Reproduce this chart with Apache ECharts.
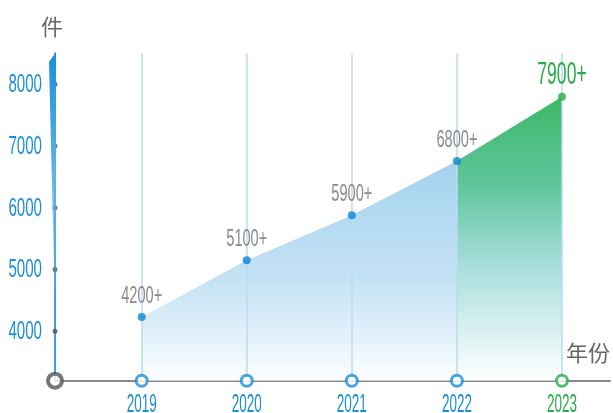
<!DOCTYPE html>
<html><head><meta charset="utf-8">
<script src="https://cdn.jsdelivr.net/npm/echarts@6/dist/echarts.min.js"></script>
<style>html,body{margin:0;padding:0;background:#fff}#c{width:613px;height:413px}</style>
</head><body><div id="c"></div>
<script>
// ---- data ----
const years = [2019, 2020, 2021, 2022, 2023];
const values = [4230, 5150, 5880, 6760, 7800];
const valueLabels = ['4200+', '5100+', '5900+', '6800+', '7900+'];
const yTicks = [4000, 5000, 6000, 7000, 8000];
const yName = '件';
const xName = '年份';

// ---- style ----
const BLUE = '#1a8fd8';
const GREEN = '#27ae4a';
const FONT = '"Liberation Sans"';
const xMin = 2018.175, xMax = 2023.457, yMin = 3200, yMax = 8500;
const lastIdx = years.length - 1;

// condensed text: measure, then squeeze horizontally to a target char width
const mctx = document.createElement('canvas').getContext('2d');
function squeeze(text, size, charW) {
  mctx.font = size + 'px ' + FONT;
  const w = mctx.measureText(text).width;
  return (charW * text.length) / w;
}
function textEl(x, y, text, size, charW, color, align) {
  return {
    type: 'text', x: x, y: y, scaleX: squeeze(text, size, charW), scaleY: 1,
    style: {text: text, fill: color, fontSize: size, fontFamily: FONT, align: align, verticalAlign: 'middle'}
  };
}

const chart = echarts.init(document.getElementById('c'), null, {renderer: 'canvas'});

const bluePts = years.slice(0, lastIdx).map((y, i) => [y, values[i]]);
const greenPts = [[years[lastIdx - 1], values[lastIdx - 1]], [years[lastIdx], values[lastIdx]]];

chart.setOption({
  animation: false,
  grid: {left: 55, right: 3, top: 53.5, bottom: 32.3, containLabel: false, outerBoundsMode: 'none'},
  xAxis: {
    type: 'value', min: xMin, max: xMax,
    name: xName, nameLocation: 'end', nameGap: -44,
    nameTextStyle: {color: '#666', fontSize: 22, fontFamily: '"Noto Sans CJK SC"', verticalAlign: 'bottom', padding: [0, 0, 17, 0]},
    axisLine: {show: true, lineStyle: {color: '#888', width: 2}},
    axisTick: {show: false},
    splitLine: {show: false},
    axisLabel: {show: false}
  },
  yAxis: {
    type: 'value', min: yMin, max: yMax,
    name: yName, nameLocation: 'end', nameGap: 16,
    nameTextStyle: {color: '#666', fontSize: 22, fontFamily: '"Noto Sans CJK SC"', align: 'center', padding: [0, 6, 0, 0]},
    axisLine: {show: true, lineStyle: {color: '#3aa0e2', width: 2}},
    axisTick: {show: false},
    splitLine: {show: false},
    axisLabel: {show: false}
  },
  graphic: [{
    type: 'polygon', z: 10,
    shape: {points: [[49, 62], [56, 52], [56, 290], [54.5, 290]]},
    style: {fill: new echarts.graphic.LinearGradient(0, 0, 0, 1, [
      {offset: 0, color: '#1a8fd8'}, {offset: 0.5, color: '#5db3e8'}, {offset: 1, color: 'rgba(90,180,235,0.3)'}
    ])}
  }],
  series: [
    {
      type: 'line', data: [], z: 1, silent: true,
      markLine: {
        symbol: 'none', silent: true, label: {show: false},
        lineStyle: {color: '#b9dcf2', width: 1.5, type: 'solid'},
        data: years.map(y => ({xAxis: y}))
      }
    },
    {
      type: 'line', data: bluePts, z: 2, showSymbol: false, silent: true,
      lineStyle: {width: 0},
      areaStyle: {opacity: 1, color: new echarts.graphic.LinearGradient(0, 0, 0, 1, [
        {offset: 0, color: '#a3d2ef'}, {offset: 0.55, color: '#c6e3f5'}, {offset: 1, color: '#fbfdff'}
      ])}
    },
    {
      type: 'line', data: greenPts, z: 2, showSymbol: false, silent: true,
      lineStyle: {width: 0},
      areaStyle: {opacity: 1, color: new echarts.graphic.LinearGradient(0, 0, 0, 1, [
        {offset: 0, color: '#3cb967'}, {offset: 0.3, color: '#5ec49a'}, {offset: 0.6, color: '#a9dfdc'}, {offset: 1, color: '#ffffff'}
      ])}
    },
    {
      type: 'scatter', z: 5, clip: false, silent: true,
      symbolSize: 5, itemStyle: {color: '#555'},
      data: yTicks.map(v => [xMin, v])
    },
    {
      type: 'scatter', z: 6, clip: false, silent: true,
      symbol: 'circle', symbolSize: 11,
      data: years.map((y, i) => ({
        value: [y, yMin],
        itemStyle: {color: '#fff', borderWidth: 3, borderColor: i === lastIdx ? GREEN : BLUE}
      }))
    },
    {
      type: 'scatter', z: 6, clip: false, silent: true,
      symbol: 'circle', symbolSize: 14,
      itemStyle: {color: '#fff', borderWidth: 4, borderColor: '#555'},
      data: [[xMin, yMin]]
    },
    {
      type: 'scatter', z: 7, clip: false, silent: true,
      symbolSize: 8,
      data: years.map((y, i) => ({
        value: [y, values[i]],
        itemStyle: {color: i === lastIdx ? GREEN : '#0a84d6'}
      }))
    },
    // y-axis tick labels
    {
      type: 'custom', z: 8, clip: false, silent: true,
      data: yTicks.map(v => [xMin, v]),
      renderItem: (params, api) => {
        const p = api.coord([api.value(0), api.value(1)]);
        const t = String(yTicks[params.dataIndex]);
        return textEl(p[0] - 13, p[1] + 0.5, t, 26, 8.4, BLUE, 'right');
      }
    },
    // x-axis category labels
    {
      type: 'custom', z: 8, clip: false, silent: true,
      data: years.map(y => [y, yMin]),
      renderItem: (params, api) => {
        const p = api.coord([api.value(0), api.value(1)]);
        const i = params.dataIndex;
        return textEl(p[0], p[1] + 24, String(years[i]), 26, 7.5, i === lastIdx ? GREEN : BLUE, 'center');
      }
    },
    // value labels
    {
      type: 'custom', z: 8, clip: false, silent: true,
      data: years.map((y, i) => [y, values[i]]),
      renderItem: (params, api) => {
        const p = api.coord([api.value(0), api.value(1)]);
        const i = params.dataIndex;
        const t = valueLabels[i];
        return i === lastIdx
          ? textEl(p[0], p[1] - 22, t, 32, 9.9, GREEN, 'center')
          : textEl(p[0], p[1] - 21, t, 24, 8.2, '#8a8a8a', 'center');
      }
    }
  ]
});
</script></body></html>
